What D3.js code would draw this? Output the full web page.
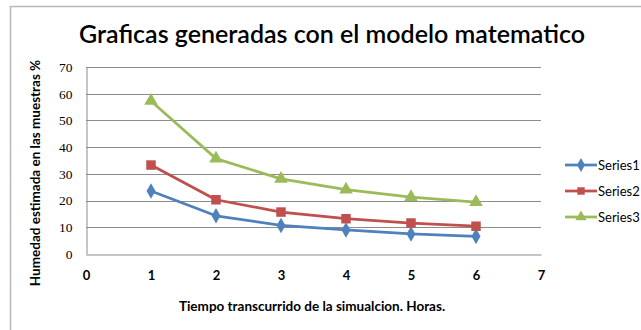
<!DOCTYPE html>
<html>
<head>
<meta charset="utf-8">
<script src="https://cdn.jsdelivr.net/npm/d3@7"></script>
<style>
  html, body { margin: 0; padding: 0; background: #fff; }
  svg { display: block; }
</style>
</head>
<body>
<svg id="chart" width="641" height="330"></svg>
<script>
// Hours of simulation
const hours = [1, 2, 3, 4, 5, 6];
// Estimated moisture (%) for each series
const series1 = [23.6, 14.3, 10.7, 9.0, 7.5, 6.6];
const series2 = [33.3, 20.3, 15.7, 13.2, 11.6, 10.4];
const series3 = [57.3, 35.7, 28.1, 24.1, 21.3, 19.4];
const seriesNames = ["Series1", "Series2", "Series3"];
const seriesColors = ["#4F81BD", "#C0504D", "#9BBB59"];
const seriesShapes = ["diamond", "square", "triangle"];
const xTicks = [0, 1, 2, 3, 4, 5, 6, 7];
const yTicks = [0, 10, 20, 30, 40, 50, 60, 70];

const title = "Graficas generadas con el modelo matematico";
const xTitle = "Tiempo transcurrido de la simualcion. Horas.";
const yTitle = "Humedad estimada en las muestras %";

const svg = d3.select("#chart");
const sans = "Lato, 'Open Sans', sans-serif";

// Outer chart frame
svg.append("rect")
  .attr("x", 10.5).attr("y", 6.5)
  .attr("width", 700).attr("height", 400)
  .attr("fill", "#fff")
  .attr("stroke", "#b8b8b8").attr("stroke-width", 1.5);

const plot = { left: 86, right: 541, top: 67, bottom: 254 };

const x = d3.scaleLinear().domain([0, 7]).range([plot.left, plot.right]);
const y = d3.scaleLinear().domain([0, 70]).range([plot.bottom, plot.top]);

// Horizontal gridlines
svg.append("g")
  .selectAll("line")
  .data(yTicks.filter(d => d > 0))
  .join("line")
  .attr("x1", plot.left).attr("x2", plot.right)
  .attr("y1", d => Math.round(y(d)) + 0.5).attr("y2", d => Math.round(y(d)) + 0.5)
  .attr("stroke", "#8c8c8c").attr("stroke-width", 1);

// Y axis
const yAxis = svg.append("g")
  .attr("transform", `translate(${plot.left + 0.5},0)`)
  .call(d3.axisLeft(y).tickValues(yTicks).tickFormat(d3.format("d")).tickSize(0).tickPadding(14));
yAxis.select(".domain").attr("stroke", "#8c8c8c");
yAxis.selectAll("text")
  .attr("font-family", "'Liberation Serif', 'DejaVu Serif', serif")
  .attr("font-size", 13.5).attr("fill", "#000");

// X axis
const xAxis = svg.append("g")
  .attr("transform", `translate(0,${plot.bottom + 0.5})`)
  .call(d3.axisBottom(x).tickValues(xTicks).tickFormat(d3.format("d")).tickSize(0).tickPadding(16));
xAxis.select(".domain").attr("stroke", "#8c8c8c");
xAxis.selectAll("text")
  .attr("font-family", sans).attr("font-weight", "bold")
  .attr("font-size", 13).attr("fill", "#000");

// Marker symbols
const symbolFor = {
  diamond: d3.symbol().type(d3.symbolDiamond).size(70),
  square: d3.symbol().type(d3.symbolSquare).size(90),
  triangle: d3.symbol().type(d3.symbolTriangle).size(80)
};

const allSeries = [series1, series2, series3];
const line = d3.line().x((d, i) => x(hours[i])).y(d => y(d));

allSeries.forEach((vals, si) => {
  const g = svg.append("g");
  g.append("path")
    .datum(vals)
    .attr("d", line)
    .attr("fill", "none")
    .attr("stroke", seriesColors[si])
    .attr("stroke-width", 2.75)
    .attr("stroke-linejoin", "round");
  g.selectAll("path.mark")
    .data(vals)
    .join("path")
    .attr("class", "mark")
    .attr("transform", (d, i) => `translate(${x(hours[i])},${y(d)})`)
    .attr("d", symbolFor[seriesShapes[si]]())
    .attr("fill", seriesColors[si]);
});

// Legend
const legend = svg.append("g");
const legendY = [165, 191, 217];
seriesNames.forEach((name, i) => {
  const ly = legendY[i];
  legend.append("line")
    .attr("x1", 565).attr("x2", 597).attr("y1", ly).attr("y2", ly)
    .attr("stroke", seriesColors[i]).attr("stroke-width", 2.75);
  legend.append("path")
    .attr("transform", `translate(581,${ly})`)
    .attr("d", d3.symbol().type([d3.symbolDiamond, d3.symbolSquare, d3.symbolTriangle][i]).size(55)())
    .attr("fill", seriesColors[i]);
  legend.append("text")
    .attr("x", 598).attr("y", ly).attr("dy", "0.35em")
    .attr("font-family", sans).attr("font-size", 13).attr("fill", "#000")
    .text(name);
});

// Titles
svg.append("text")
  .attr("x", 332).attr("y", 43)
  .attr("text-anchor", "middle")
  .attr("font-family", sans).attr("font-weight", 600)
  .attr("font-size", 25).attr("fill", "#000")
  .text(title);

svg.append("text")
  .attr("x", 312).attr("y", 311)
  .attr("text-anchor", "middle")
  .attr("font-family", sans).attr("font-weight", "bold")
  .attr("font-size", 13.5).attr("fill", "#000")
  .text(xTitle);

svg.append("text")
  .attr("transform", "translate(40,173) rotate(-90)")
  .attr("text-anchor", "middle")
  .attr("font-family", sans).attr("font-weight", "bold")
  .attr("font-size", 13.5).attr("fill", "#000")
  .text(yTitle);
</script>
</body>
</html>
